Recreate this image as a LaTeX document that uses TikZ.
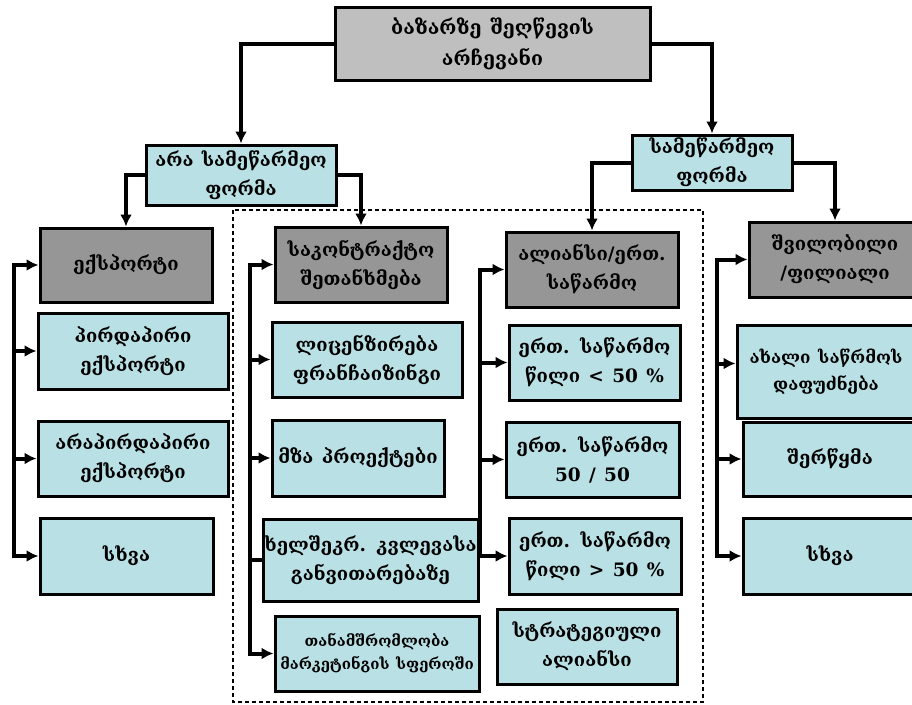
\documentclass[tikz,border=0pt]{standalone}
\usepackage{fontspec}
\setmainfont{DejaVu Serif}[Script=Georgian]
\usepackage{xcolor}
\usetikzlibrary{arrows.meta}
\definecolor{leafblue}{RGB}{185,224,228}
\definecolor{rootgray}{RGB}{191,191,191}
\definecolor{headgray}{RGB}{150,150,150}
\newcommand\wordgap{\spaceskip=0.45em plus 0.1em\relax}
\tikzset{leaf/.style={draw,line width=3pt,fill=leafblue,align=center,inner sep=1pt,font=\bfseries\fontsize{18.5}{29}\selectfont\wordgap},
  head/.style={leaf,fill=headgray},
  root/.style={leaf,fill=rootgray}}

\begin{document}
\begin{tikzpicture}[x=1pt,y=-1pt,>={Latex[length=12pt,width=12pt]},line width=4pt]
    \useasboundingbox (0,0) rectangle (912,704);
    \draw [line width=1.5pt,dash pattern=on 4pt off 3pt] (233,210) rectangle (703,702);

    \node[root,minimum width=315,minimum height=73,font=\bfseries\fontsize{19.5}{31}\selectfont\wordgap] (choice) at (492.5,43.5) {ბაზარზე შეღწევის\\არჩევანი};
    \node[leaf,minimum width=190,minimum height=60] (nonent) at (241,175) {არა სამეწარმეო\\ფორმა};
    \node[leaf,minimum width=160,minimum height=55] (ent) at (712,162.5) {სამეწარმეო\\ფორმა};

    \node[head,minimum width=172,minimum height=74] (exp) at (126,265) {ექსპორტი};
    \node[leaf,minimum width=190,minimum height=76] (direct) at (133,351) {პირდაპირი\\ექსპორტი};
    \node[leaf,minimum width=190,minimum height=75] (indirect) at (133,458.5) {არაპირდაპირი\\ექსპორტი};
    \node[leaf,minimum width=173,minimum height=76] (otherexp) at (126.5,556) {სხვა};

    \node[head,minimum width=172,minimum height=75] (contr) at (361,264.5) {საკონტრაქტო\\შეთანხმება};
    \node[leaf,minimum width=190,minimum height=75] (licen) at (367,359.5) {ლიცენზირება\\ფრანჩაიზინგი};
    \node[leaf,minimum width=172,minimum height=76] (turnkey) at (358,458) {მზა პროექტები};
    \node[leaf,minimum width=215,minimum height=82] (rnd) at (370.5,560) {ხელშეკრ. კვლევასა\\განვითარებაზე};
    \node[leaf,minimum width=204,minimum height=75,font=\bfseries\fontsize{15}{23}\selectfont\wordgap] (market) at (377,653.5) {თანამშრომლობა\\მარკეტინგის სფეროში};

    \node[head,minimum width=172,minimum height=75] (alli) at (592,269.5) {ალიანსი/ერთ.\\საწარმო};
    \node[leaf,minimum width=171,minimum height=75] (jvlow) at (594.5,362.5) {ერთ. საწარმო\\წილი < 50 \%};
    \node[leaf,minimum width=173,minimum height=75] (jvhalf) at (592.5,459.5) {ერთ. საწარმო\\50 / 50};
    \node[leaf,minimum width=172,minimum height=76] (jvhigh) at (595,556) {ერთ. საწარმო\\წილი > 50 \%};
    \node[leaf,minimum width=180,minimum height=75] (strat) at (587,646.5) {სტრატეგიული\\ალიანსი};

    \node[head,minimum width=172,minimum height=75] (subs) at (835,259.5) {შვილობილი\\/ფილიალი};
    \node[leaf,minimum width=178,minimum height=93,font=\bfseries\fontsize{17}{27}\selectfont\wordgap] (newco) at (826,371.5) {ახალი საწრმოს\\დაფუძნება};
    \node[leaf,minimum width=174,minimum height=74] (merge) at (830,459) {შერწყმა};
    \node[leaf,minimum width=174,minimum height=76] (othersub) at (830,556) {სხვა};

    \coordinate (lrail) at (14,0);
    \coordinate (mrail) at (250,0);
    \coordinate (jrail) at (480,0);
    \coordinate (rrail) at (717,0);
    \coordinate (newin) at ([yshift=8pt]newco.west);

    \draw [->] (choice.west) -| (nonent.north);
    \draw [->] (choice.east) -| (ent.north);
    \draw [->] (nonent.west) -| (exp.north);
    \draw [->] (nonent.east) -| (contr.north);
    \draw [->] (ent.west) -| (alli.north);
    \draw [->] (ent.east) -| (subs.north);

    \draw [<->] (exp.west) -| (lrail |- otherexp.west) -- (otherexp.west);
    \draw [->] (lrail |- direct.west) -- (direct.west);
    \draw [->] (lrail |- indirect.west) -- (indirect.west);

    \draw [<->] (contr.west) -| (mrail |- market.west) -- (market.west);
    \draw [->] (mrail |- licen.west) -- (licen.west);
    \draw [->] (mrail |- turnkey.west) -- (turnkey.west);
    \draw [] (mrail |- rnd.west) -- (rnd.west);

    \draw [<->] (alli.west) -| (jrail |- jvhigh.west) -- (jvhigh.west);
    \draw [->] (jrail |- jvlow.west) -- (jvlow.west);
    \draw [->] (jrail |- jvhalf.west) -- (jvhalf.west);

    \draw [<->] (subs.west) -| (rrail |- othersub.west) -- (othersub.west);
    \draw [->] (rrail |- newin) -- (newin);
    \draw [->] (rrail |- merge.west) -- (merge.west);
\end{tikzpicture}
\end{document}
